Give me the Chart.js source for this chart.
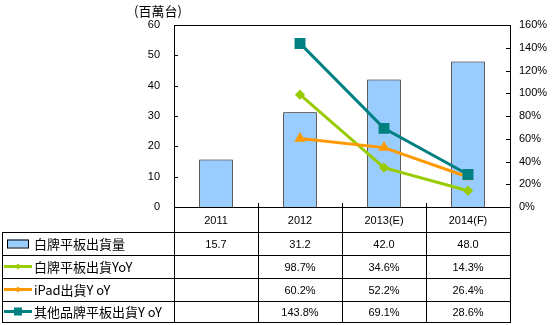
<!DOCTYPE html>
<html>
<head>
<meta charset="utf-8">
<script src="https://cdn.jsdelivr.net/npm/chart.js@4.4.0/dist/chart.umd.min.js"></script>
<style>
  html, body { margin: 0; padding: 0; background: #fff; }
  #wrap { width: 554px; height: 325px; }
</style>
</head>
<body>
<div id="wrap"><canvas id="chart" width="554" height="325"></canvas></div>
<script>
// datos
const years = ['2011', '2012', '2013(E)', '2014(F)'];
const shipments = [15.7, 31.2, 42.0, 48.0];
const whiteYoY = [null, 98.7, 34.6, 14.3];
const ipadYoY = [null, 60.2, 52.2, 26.4];
const otherYoY = [null, 143.8, 69.1, 28.6];
const seriesNames = ['白牌平板出貨量', '白牌平板出貨YoY', 'iPad出貨Y oY', '其他品牌平板出貨Y oY'];
const unitLabel = '(百萬台)';

const numFont = '11px "Liberation Sans", Arial, sans-serif';
const cjkFont = '13px "Noto Sans CJK TC", sans-serif';

// tabla + marcas de ejes
const tablePlugin = {
    id: 'tablePlugin',
    afterDraw(chart) {
        const ctx = chart.ctx;
        const area = chart.chartArea;
        const x = chart.scales.x;
        const yL = chart.scales.y;
        const yR = chart.scales.y1;
        ctx.save();
        ctx.strokeStyle = '#000';
        ctx.lineWidth = 1;

        // marco superior
        ctx.beginPath();
        ctx.moveTo(area.left, area.top + 0.5);
        ctx.lineTo(area.right, area.top + 0.5);
        ctx.stroke();

        // ticks hacia adentro
        ctx.beginPath();
        yL.ticks.forEach((t, i) => {
            const py = Math.round(yL.getPixelForTick(i)) + 0.5;
            ctx.moveTo(area.left, py); ctx.lineTo(area.left + 4, py);
        });
        yR.ticks.forEach((t, i) => {
            const py = Math.round(yR.getPixelForTick(i)) + 0.5;
            ctx.moveTo(area.right, py); ctx.lineTo(area.right - 4, py);
        });
        ctx.stroke();

        // filas de la tabla
        const rows = [area.bottom, area.bottom + 25, area.bottom + 48, area.bottom + 71, area.bottom + 94, area.bottom + 115];
        const colW = (area.right - area.left) / years.length;
        const tableLeft = 2;
        ctx.beginPath();
        rows.forEach((ry, i) => {
            if (i === 0) return;
            ctx.moveTo(tableLeft, ry + 0.5);
            ctx.lineTo(area.right, ry + 0.5);
        });
        ctx.moveTo(tableLeft + 0.5, rows[1]); ctx.lineTo(tableLeft + 0.5, rows[5] + 1);
        for (let i = 0; i <= years.length; i++) {
            const cx = Math.round(area.left + i * colW) + 0.5;
            ctx.moveTo(cx, i === 0 || i === years.length ? rows[0] : rows[0] - 4);
            ctx.lineTo(cx, rows[5] + 1);
        }
        ctx.stroke();

        // valores
        const tableRows = [
            shipments.map(v => v.toFixed(1)),
            whiteYoY.map(v => v == null ? '' : v.toFixed(1) + '%'),
            ipadYoY.map(v => v == null ? '' : v.toFixed(1) + '%'),
            otherYoY.map(v => v == null ? '' : v.toFixed(1) + '%')
        ];
        ctx.fillStyle = '#000';
        ctx.font = numFont;
        ctx.textAlign = 'center';
        ctx.textBaseline = 'middle';
        tableRows.forEach((r, ri) => {
            const cy = (rows[ri + 1] + rows[ri + 2]) / 2 + 1;
            r.forEach((txt, ci) => {
                ctx.fillText(txt, x.getPixelForValue(ci), cy);
            });
        });

        // leyenda dentro de la tabla
        const ds = chart.data.datasets;
        seriesNames.forEach((name, ri) => {
            const cy = (rows[ri + 1] + rows[ri + 2]) / 2;
            const d = ds.find(s => s.label === name);
            if (d.type === 'bar') {
                ctx.fillStyle = d.backgroundColor;
                ctx.fillRect(7, cy - 4, 21, 8);
                ctx.strokeStyle = '#000';
                ctx.strokeRect(7.5, cy - 3.5, 21, 8);
            } else {
                ctx.strokeStyle = d.borderColor;
                ctx.lineWidth = 3;
                ctx.beginPath();
                ctx.moveTo(4, cy); ctx.lineTo(32, cy);
                ctx.stroke();
                ctx.lineWidth = 1;
                ctx.fillStyle = d.borderColor;
                if (d.pointStyle === 'rect') {
                    ctx.fillRect(14, cy - 4, 8, 8);
                } else {
                    ctx.beginPath();
                    ctx.moveTo(18, cy - 3); ctx.lineTo(21, cy); ctx.lineTo(18, cy + 3); ctx.lineTo(15, cy);
                    ctx.closePath(); ctx.fill();
                }
            }
            ctx.fillStyle = '#000';
            ctx.font = cjkFont;
            ctx.textAlign = 'left';
            ctx.fillText(name, 34, cy + 1);
        });

        // unidad
        ctx.font = cjkFont;
        ctx.textAlign = 'center';
        ctx.fillText(unitLabel, 158, 11);
        ctx.restore();
    }
};

new Chart(document.getElementById('chart'), {
    data: {
        labels: years,
        datasets: [
            {
                type: 'line', label: seriesNames[3], data: otherYoY, yAxisID: 'y1',
                borderColor: '#008080', backgroundColor: '#008080', borderWidth: 3,
                pointStyle: 'rect', pointRadius: 5.6, pointHoverRadius: 5.6, order: 0
            },
            {
                type: 'line', label: seriesNames[2], data: ipadYoY, yAxisID: 'y1',
                borderColor: '#FF9900', backgroundColor: '#FF9900', borderWidth: 3,
                pointStyle: 'triangle', pointRadius: 3.5, order: 1
            },
            {
                type: 'line', label: seriesNames[1], data: whiteYoY, yAxisID: 'y1',
                borderColor: '#99CC00', backgroundColor: '#99CC00', borderWidth: 3,
                pointStyle: 'rectRot', pointRadius: 3, order: 2
            },
            {
                type: 'bar', label: seriesNames[0], data: shipments, yAxisID: 'y',
                backgroundColor: '#99CCFF', borderColor: '#000', borderWidth: 1,
                barPercentage: 0.4, categoryPercentage: 1, order: 10
            }
        ]
    },
    options: {
        responsive: false,
        animation: false,
        devicePixelRatio: 1,
        layout: { padding: { top: 25, left: 0, right: 0, bottom: 0 } },
        plugins: { legend: { display: false }, tooltip: { enabled: false } },
        scales: {
            x: {
                offset: true,
                grid: { display: false, drawTicks: false },
                border: { display: true, color: '#000' },
                ticks: { color: '#000', font: { family: '"Liberation Sans", Arial, sans-serif', size: 11 }, padding: 7, maxRotation: 0 },
                afterFit: s => { s.height = 118; }
            },
            y: {
                position: 'left', min: 0, max: 60,
                ticks: { stepSize: 10, color: '#000', font: { family: '"Liberation Sans", Arial, sans-serif', size: 11 }, padding: 14 },
                grid: { display: false, drawTicks: false },
                border: { display: true, color: '#000' },
                afterFit: s => { s.width = 174; }
            },
            y1: {
                position: 'right', min: 0, max: 160,
                ticks: { stepSize: 20, color: '#000', font: { family: '"Liberation Sans", Arial, sans-serif', size: 11 }, padding: 9, callback: v => v + '%' },
                grid: { display: false, drawTicks: false },
                border: { display: true, color: '#000' },
                afterFit: s => { s.width = 44; }
            }
        }
    },
    plugins: [tablePlugin]
});
</script>
</body>
</html>
